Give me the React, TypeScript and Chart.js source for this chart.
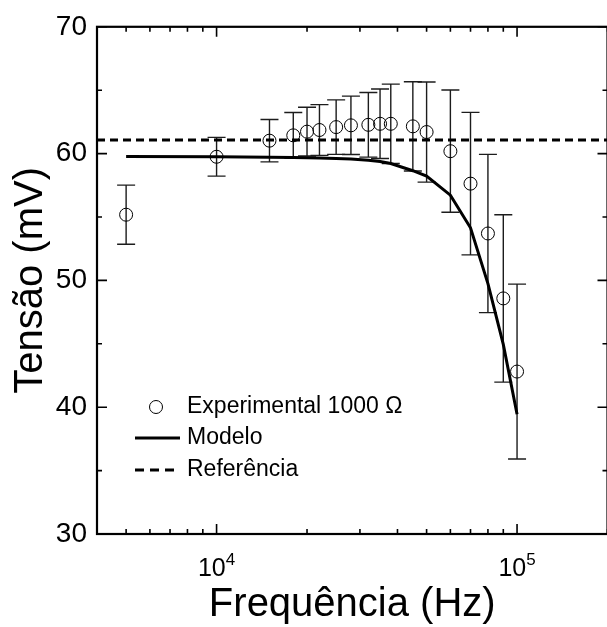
import { useEffect, useRef } from "react";
import { Chart, registerables } from "chart.js";

Chart.register(...registerables);

// ---- data ----
const frequencies = [5000, 10000, 15000, 18000, 20000, 22000, 25000, 28000, 32000, 35000, 38000, 45000, 50000, 60000, 70000, 80000, 90000, 100000];
const experimental = [55.18, 59.75, 61.02, 61.44, 61.73, 61.86, 62.09, 62.23, 62.27, 62.35, 62.35, 62.15, 61.7, 60.19, 57.63, 53.7, 48.58, 42.81];
const experimentalError = [2.33, 1.53, 1.67, 1.8, 1.92, 2.0, 2.15, 2.3, 2.55, 2.74, 3.13, 3.52, 3.95, 4.82, 5.62, 6.24, 6.6, 6.9];
const model = [59.77, 59.75, 59.72, 59.7, 59.68, 59.66, 59.62, 59.57, 59.48, 59.38, 59.22, 58.65, 58.22, 56.72, 54.15, 49.75, 44.95, 39.45];
const referenceLevel = 61.07;

const xRange = [4000, 200000];
const yRange = [30, 70];
const xMajorTicks = [10000, 100000];
const xMinorTicks = [5000, 6000, 7000, 8000, 9000, 20000, 30000, 40000, 50000, 60000, 70000, 80000, 90000, 200000];
const xTickBase = ["10", "10"];
const xTickExponent = ["4", "5"];
const yMajorTicks = [30, 40, 50, 60, 70];
const yMinorTicks = [35, 45, 55, 65];
const xTitle = "Frequência (Hz)";
const yTitle = "Tensão (mV)";
const legendLabels = ["Experimental 1000 Ω", "Modelo", "Referência"];

const FONT = "'Liberation Sans', Arial, Helvetica, sans-serif";

const decorPlugin = {
  id: "decor",
  beforeDatasetsDraw(chart: any) {
    const { ctx, scales } = chart;
    const x = scales.x;
    const y = scales.y;
    ctx.save();
    ctx.strokeStyle = "#1c1c1c";
    ctx.lineWidth = 1.4;
    frequencies.forEach((f, i) => {
      const px = x.getPixelForValue(f);
      const yTop = y.getPixelForValue(experimental[i] + experimentalError[i]);
      const yBot = y.getPixelForValue(experimental[i] - experimentalError[i]);
      ctx.beginPath();
      ctx.moveTo(px, yTop);
      ctx.lineTo(px, yBot);
      ctx.moveTo(px - 9, yTop);
      ctx.lineTo(px + 9, yTop);
      ctx.moveTo(px - 9, yBot);
      ctx.lineTo(px + 9, yBot);
      ctx.stroke();
    });
    ctx.restore();
  },
  afterDraw(chart: any) {
    const { ctx, chartArea, scales } = chart;
    const x = scales.x;
    const y = scales.y;
    const { left, right, top, bottom } = chartArea;
    ctx.save();
    // frame
    ctx.strokeStyle = "#000";
    ctx.lineWidth = 2.2;
    ctx.strokeRect(left, top, right - left, bottom - top);
    // ticks
    ctx.lineWidth = 1.6;
    ctx.beginPath();
    const xt = (v: number, len: number) => {
      const px = x.getPixelForValue(v);
      ctx.moveTo(px, bottom);
      ctx.lineTo(px, bottom - len);
      ctx.moveTo(px, top);
      ctx.lineTo(px, top + len);
    };
    const yt = (v: number, len: number) => {
      const py = y.getPixelForValue(v);
      ctx.moveTo(left, py);
      ctx.lineTo(left + len, py);
      ctx.moveTo(right, py);
      ctx.lineTo(right - len, py);
    };
    xMajorTicks.forEach((v) => xt(v, 10));
    xMinorTicks.forEach((v) => xt(v, 5));
    yMajorTicks.forEach((v) => yt(v, 10));
    yMinorTicks.forEach((v) => yt(v, 5));
    ctx.stroke();

    // x tick labels with superscript
    ctx.fillStyle = "#000";
    ctx.textBaseline = "alphabetic";
    ctx.textAlign = "left";
    xMajorTicks.forEach((v, i) => {
      const px = x.getPixelForValue(v);
      ctx.font = `25px ${FONT}`;
      const wb = ctx.measureText(xTickBase[i]).width;
      ctx.font = `17px ${FONT}`;
      const we = ctx.measureText(xTickExponent[i]).width;
      const start = px - (wb + we) / 2;
      ctx.font = `25px ${FONT}`;
      ctx.fillText(xTickBase[i], start, 576);
      ctx.font = `17px ${FONT}`;
      ctx.fillText(xTickExponent[i], start + wb, 565);
    });

    // axis titles
    ctx.font = `40px ${FONT}`;
    ctx.textAlign = "center";
    ctx.fillText(xTitle, (left + right) / 2, 616);
    ctx.save();
    ctx.translate(42, (top + bottom) / 2);
    ctx.rotate(-Math.PI / 2);
    ctx.fillText(yTitle, 0, 0);
    ctx.restore();

    // legend
    ctx.textAlign = "left";
    ctx.textBaseline = "middle";
    ctx.font = `23px ${FONT}`;
    const rows = [407, 438, 470];
    ctx.lineWidth = 1;
    ctx.beginPath();
    ctx.arc(156, rows[0], 6.5, 0, Math.PI * 2);
    ctx.stroke();
    ctx.lineWidth = 3;
    ctx.beginPath();
    ctx.moveTo(135, rows[1]);
    ctx.lineTo(180, rows[1]);
    ctx.stroke();
    ctx.setLineDash([9, 6]);
    ctx.beginPath();
    ctx.moveTo(135, rows[2]);
    ctx.lineTo(180, rows[2]);
    ctx.stroke();
    ctx.setLineDash([]);
    legendLabels.forEach((t, i) => ctx.fillText(t, 187, rows[i]));
    ctx.restore();
  },
};

export default function App() {
  const canvasRef = useRef<HTMLCanvasElement | null>(null);

  useEffect(() => {
    if (!canvasRef.current) return;
    const chart = new Chart(canvasRef.current, {
      type: "scatter",
      data: {
        datasets: [
          {
            label: legendLabels[0],
            data: frequencies.map((f, i) => ({ x: f, y: experimental[i] })),
            showLine: false,
            pointStyle: "circle",
            pointRadius: 6.5,
            pointHoverRadius: 6.5,
            borderColor: "#000",
            borderWidth: 1,
            backgroundColor: "rgba(0,0,0,0)",
          },
          {
            label: legendLabels[1],
            data: frequencies.map((f, i) => ({ x: f, y: model[i] })),
            showLine: true,
            pointRadius: 0,
            borderColor: "#000",
            borderWidth: 3,
            backgroundColor: "#000",
            tension: 0,
          },
          {
            label: legendLabels[2],
            data: xRange.map((f) => ({ x: f, y: referenceLevel })),
            showLine: true,
            pointRadius: 0,
            borderColor: "#000",
            borderWidth: 3,
            borderDash: [8, 5],
            backgroundColor: "#000",
          },
        ],
      },
      options: {
        responsive: false,
        devicePixelRatio: 1,
        animation: false,
        layout: { padding: { top: 23, right: 5, left: 0, bottom: 0 } },
        plugins: { legend: { display: false }, tooltip: { enabled: false } },
        scales: {
          x: {
            type: "logarithmic",
            min: xRange[0],
            max: xRange[1],
            grid: { display: false },
            border: { display: false },
            ticks: { display: false },
            afterFit: (s: any) => {
              s.height = 93;
            },
          },
          y: {
            type: "linear",
            min: yRange[0],
            max: yRange[1],
            grid: { display: false, drawTicks: false },
            border: { display: false },
            ticks: {
              stepSize: 10,
              color: "#000",
              padding: 10,
              font: { family: FONT, size: 28 },
            },
            afterFit: (s: any) => {
              s.width = 97;
            },
          },
        },
      },
      plugins: [decorPlugin],
    });
    return () => chart.destroy();
  }, []);

  return (
    <div
      style={{
        position: "fixed",
        left: 0,
        top: 0,
        width: 607,
        height: 627,
        overflow: "hidden",
        background: "#fff",
      }}
    >
      <canvas ref={canvasRef} width={615} height={627} style={{ display: "block", width: 615, height: 627 }} />
    </div>
  );
}
